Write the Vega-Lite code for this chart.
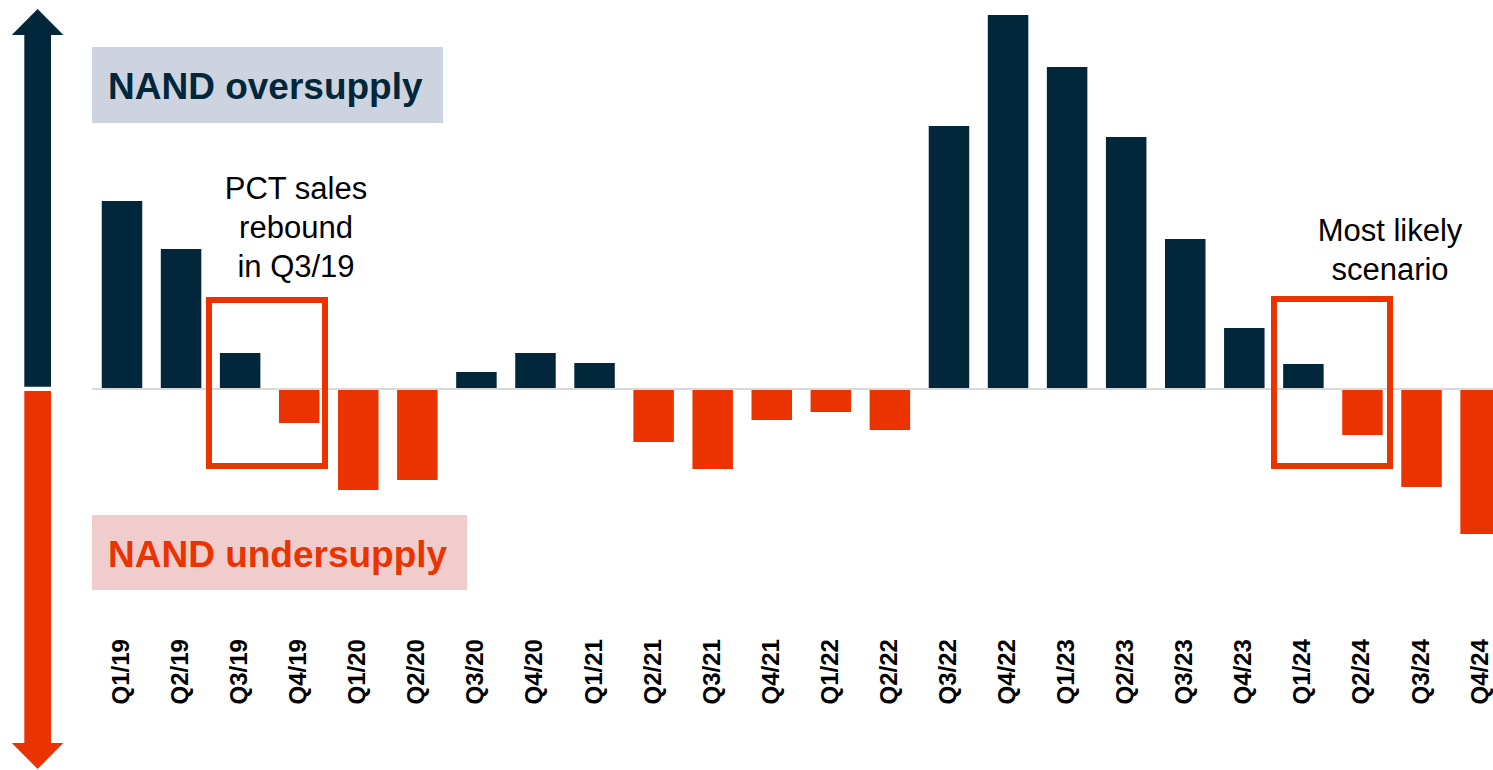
{
  "$schema": "https://vega.github.io/schema/vega-lite/v6.json",
  "autosize": "none",
  "width": 1493,
  "height": 770,
  "padding": 0,
  "background": "white",
  "config": {"view": {"stroke": null}, "font": "Liberation Sans"},
  "datasets": {
    "bars": [
      {"quarter": "Q1/19", "balance": 188},
      {"quarter": "Q2/19", "balance": 140},
      {"quarter": "Q3/19", "balance": 36},
      {"quarter": "Q4/19", "balance": -34},
      {"quarter": "Q1/20", "balance": -101},
      {"quarter": "Q2/20", "balance": -91},
      {"quarter": "Q3/20", "balance": 17},
      {"quarter": "Q4/20", "balance": 36},
      {"quarter": "Q1/21", "balance": 26},
      {"quarter": "Q2/21", "balance": -53},
      {"quarter": "Q3/21", "balance": -80},
      {"quarter": "Q4/21", "balance": -31},
      {"quarter": "Q1/22", "balance": -23},
      {"quarter": "Q2/22", "balance": -41},
      {"quarter": "Q3/22", "balance": 263},
      {"quarter": "Q4/22", "balance": 374},
      {"quarter": "Q1/23", "balance": 322},
      {"quarter": "Q2/23", "balance": 252},
      {"quarter": "Q3/23", "balance": 150},
      {"quarter": "Q4/23", "balance": 61},
      {"quarter": "Q1/24", "balance": 25},
      {"quarter": "Q2/24", "balance": -46},
      {"quarter": "Q3/24", "balance": -98},
      {"quarter": "Q4/24", "balance": -145}
    ]
  },
  "resolve": {"scale": {"x": "independent", "y": "shared"}},
  "layer": [
    {
      "data": {"values": [{"x": 92, "x2": 443, "y": 342, "y2": 266}]},
      "mark": {"type": "rect", "fill": "#CDD3DF"},
      "encoding": {
        "x": {"field": "x", "type": "quantitative", "scale": {"domain": [0, 1493], "nice": false, "zero": false}, "axis": null},
        "x2": {"field": "x2"},
        "y": {"field": "y", "type": "quantitative", "scale": {"domain": [-381, 389], "nice": false, "zero": false}, "axis": null},
        "y2": {"field": "y2"}
      }
    },
    {
      "data": {"values": [{"x": 92, "x2": 467, "y": -126, "y2": -201}]},
      "mark": {"type": "rect", "fill": "#F0CCCD"},
      "encoding": {
        "x": {"field": "x", "type": "quantitative", "scale": {"domain": [0, 1493], "nice": false, "zero": false}, "axis": null},
        "x2": {"field": "x2"},
        "y": {"field": "y", "type": "quantitative", "axis": null},
        "y2": {"field": "y2"}
      }
    },
    {
      "data": {"values": [{"x": 108, "y": 290, "label": "NAND oversupply"}]},
      "mark": {"type": "text", "align": "left", "baseline": "alphabetic", "fontSize": 37, "fontWeight": "bold", "color": "#02273A"},
      "encoding": {
        "x": {"field": "x", "type": "quantitative", "scale": {"domain": [0, 1493], "nice": false, "zero": false}, "axis": null},
        "y": {"field": "y", "type": "quantitative", "axis": null},
        "text": {"field": "label"}
      }
    },
    {
      "data": {"values": [{"x": 108, "y": -178, "label": "NAND undersupply"}]},
      "mark": {"type": "text", "align": "left", "baseline": "alphabetic", "fontSize": 37, "fontWeight": "bold", "color": "#EB3300"},
      "encoding": {
        "x": {"field": "x", "type": "quantitative", "scale": {"domain": [0, 1493], "nice": false, "zero": false}, "axis": null},
        "y": {"field": "y", "type": "quantitative", "axis": null},
        "text": {"field": "label"}
      }
    },
    {
      "data": {"values": [
        {"x": 296, "y": 190, "label": "PCT sales\nrebound\nin Q3/19"},
        {"x": 1390, "y": 148, "label": "Most likely\nscenario"}
      ]},
      "mark": {"type": "text", "align": "center", "baseline": "alphabetic", "fontSize": 31, "lineHeight": 39, "lineBreak": "\n", "color": "#000000"},
      "encoding": {
        "x": {"field": "x", "type": "quantitative", "scale": {"domain": [0, 1493], "nice": false, "zero": false}, "axis": null},
        "y": {"field": "y", "type": "quantitative", "axis": null},
        "text": {"field": "label"}
      }
    },
    {
      "data": {"name": "bars"},
      "mark": {"type": "bar", "orient": "vertical"},
      "encoding": {
        "x": {
          "field": "quarter", "type": "nominal", "sort": null,
          "scale": {"type": "band", "range": [101.75, 1500.85], "paddingInner": 0.3144, "paddingOuter": 0},
          "axis": {
            "orient": "bottom", "title": null, "domain": false, "ticks": false, "tickSize": 0,
            "labelAngle": -90, "labelAlign": "left", "labelBaseline": "middle",
            "labelPadding": 0, "offset": -66,
            "labelFont": "Liberation Sans", "labelFontSize": 24, "labelFontWeight": "bold", "labelColor": "#000000",
            "labelOverlap": false, "labelBound": false, "grid": false
          }
        },
        "y": {"field": "balance", "type": "quantitative", "axis": null},
        "color": {"condition": {"test": "datum.balance < 0", "value": "#EB3300"}, "value": "#02273A"}
      }
    },
    {
      "data": {"values": [{"x": 92, "x2": 1493, "y": 0}]},
      "mark": {"type": "rule", "color": "#D9D9D9", "strokeWidth": 2},
      "encoding": {
        "x": {"field": "x", "type": "quantitative", "scale": {"domain": [0, 1493], "nice": false, "zero": false}, "axis": null},
        "x2": {"field": "x2"},
        "y": {"field": "y", "type": "quantitative", "axis": null}
      }
    },
    {
      "data": {"values": [
        {"x": 209, "x2": 325, "y": 89, "y2": -77},
        {"x": 1274, "x2": 1390, "y": 90, "y2": -77}
      ]},
      "mark": {"type": "rect", "fill": null, "fillOpacity": 0, "stroke": "#EB3300", "strokeWidth": 6},
      "encoding": {
        "x": {"field": "x", "type": "quantitative", "scale": {"domain": [0, 1493], "nice": false, "zero": false}, "axis": null},
        "x2": {"field": "x2"},
        "y": {"field": "y", "type": "quantitative", "axis": null},
        "y2": {"field": "y2"}
      }
    },
    {
      "data": {"values": [{"x": 24.3, "x2": 51, "y": 355, "y2": 2.3}]},
      "mark": {"type": "rect", "fill": "#02273A"},
      "encoding": {
        "x": {"field": "x", "type": "quantitative", "scale": {"domain": [0, 1493], "nice": false, "zero": false}, "axis": null},
        "x2": {"field": "x2"},
        "y": {"field": "y", "type": "quantitative", "axis": null},
        "y2": {"field": "y2"}
      }
    },
    {
      "data": {"values": [{"x": 24.3, "x2": 51, "y": -2, "y2": -355}]},
      "mark": {"type": "rect", "fill": "#EB3300"},
      "encoding": {
        "x": {"field": "x", "type": "quantitative", "scale": {"domain": [0, 1493], "nice": false, "zero": false}, "axis": null},
        "x2": {"field": "x2"},
        "y": {"field": "y", "type": "quantitative", "axis": null},
        "y2": {"field": "y2"}
      }
    },
    {
      "data": {"values": [{"x": 37.6, "y": 367}]},
      "mark": {"type": "point", "filled": true, "opacity": 1, "fill": "#02273A", "strokeWidth": 0, "size": 2663, "shape": "M-1,0.504L0,-0.504L1,0.504Z"},
      "encoding": {
        "x": {"field": "x", "type": "quantitative", "scale": {"domain": [0, 1493], "nice": false, "zero": false}, "axis": null},
        "y": {"field": "y", "type": "quantitative", "axis": null}
      }
    },
    {
      "data": {"values": [{"x": 37.6, "y": -367}]},
      "mark": {"type": "point", "filled": true, "opacity": 1, "fill": "#EB3300", "strokeWidth": 0, "size": 2663, "shape": "M-1,-0.504L0,0.504L1,-0.504Z"},
      "encoding": {
        "x": {"field": "x", "type": "quantitative", "scale": {"domain": [0, 1493], "nice": false, "zero": false}, "axis": null},
        "y": {"field": "y", "type": "quantitative", "axis": null}
      }
    }
  ]
}
